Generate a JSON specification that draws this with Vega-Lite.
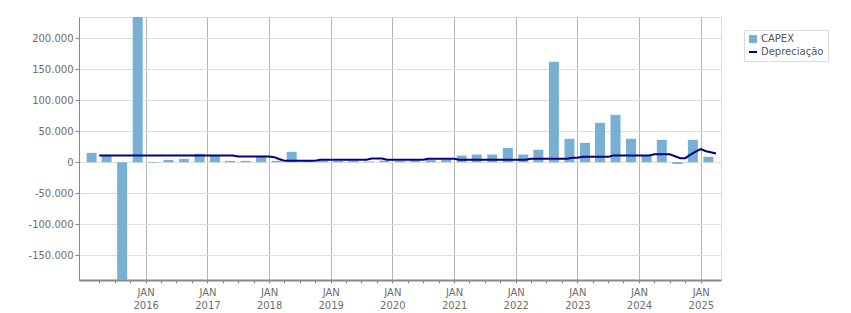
{
  "$schema": "https://vega.github.io/schema/vega-lite/v6.json",
  "autosize": "none",
  "width": 642,
  "height": 263,
  "padding": {"left": 79, "top": 17, "right": 130, "bottom": 33},
  "background": "white",
  "config": {
    "locale": {
      "number": {"decimal": ",", "thousands": ".", "grouping": [3], "currency": ["", ""], "minus": "-"}
    },
    "font": "DejaVu Sans",
    "view": {"stroke": "#dcdcdc", "strokeWidth": 1},
    "axis": {
      "labelFont": "DejaVu Sans",
      "labelFontSize": 10,
      "labelColor": "#6e6e6e",
      "domainColor": "#888888",
      "tickColor": "#888888",
      "title": null
    }
  },
  "layer": [
    {
      "data": {
        "values": [
          {"date": "2015-02-15", "value": 15000},
          {"date": "2015-05-15", "value": 10000},
          {"date": "2015-08-15", "value": -210000},
          {"date": "2015-11-15", "value": 250000},
          {"date": "2016-02-15", "value": -1000},
          {"date": "2016-05-15", "value": 3700},
          {"date": "2016-08-15", "value": 5300},
          {"date": "2016-11-15", "value": 13400},
          {"date": "2017-02-15", "value": 10500},
          {"date": "2017-05-15", "value": 2000},
          {"date": "2017-08-15", "value": 2000},
          {"date": "2017-11-15", "value": 9000},
          {"date": "2018-02-15", "value": 2000},
          {"date": "2018-05-15", "value": 16600},
          {"date": "2018-08-15", "value": 1500},
          {"date": "2018-11-15", "value": 2500},
          {"date": "2019-02-15", "value": 2000},
          {"date": "2019-05-15", "value": 2000},
          {"date": "2019-08-15", "value": 1000},
          {"date": "2019-11-15", "value": 2500},
          {"date": "2020-02-15", "value": 2000},
          {"date": "2020-05-15", "value": 2500},
          {"date": "2020-08-15", "value": 4000},
          {"date": "2020-11-15", "value": 4000},
          {"date": "2021-02-15", "value": 10600},
          {"date": "2021-05-15", "value": 12300},
          {"date": "2021-08-15", "value": 12300},
          {"date": "2021-11-15", "value": 23000},
          {"date": "2022-02-15", "value": 12300},
          {"date": "2022-05-15", "value": 19900},
          {"date": "2022-08-15", "value": 161800},
          {"date": "2022-11-15", "value": 37600},
          {"date": "2023-02-15", "value": 31100},
          {"date": "2023-05-15", "value": 63400},
          {"date": "2023-08-15", "value": 76300},
          {"date": "2023-11-15", "value": 37600},
          {"date": "2024-02-15", "value": 11000},
          {"date": "2024-05-15", "value": 36000},
          {"date": "2024-08-15", "value": -3000},
          {"date": "2024-11-15", "value": 36000},
          {"date": "2025-02-15", "value": 8600}
        ]
      },
      "mark": {"type": "bar", "size": 10, "clip": true},
      "encoding": {
        "x": {
          "field": "date",
          "type": "temporal",
          "scale": {
            "type": "utc",
            "domain": [
              {"year": 2015, "month": 1, "date": 1, "utc": true},
              {"year": 2025, "month": 4, "date": 1, "utc": true}
            ]
          },
          "axis": {
            "values": [
              {"year": 2015, "month": 4, "date": 1, "utc": true},
              {"year": 2015, "month": 7, "date": 1, "utc": true},
              {"year": 2015, "month": 10, "date": 1, "utc": true},
              {"year": 2016, "month": 1, "date": 1, "utc": true},
              {"year": 2016, "month": 4, "date": 1, "utc": true},
              {"year": 2016, "month": 7, "date": 1, "utc": true},
              {"year": 2016, "month": 10, "date": 1, "utc": true},
              {"year": 2017, "month": 1, "date": 1, "utc": true},
              {"year": 2017, "month": 4, "date": 1, "utc": true},
              {"year": 2017, "month": 7, "date": 1, "utc": true},
              {"year": 2017, "month": 10, "date": 1, "utc": true},
              {"year": 2018, "month": 1, "date": 1, "utc": true},
              {"year": 2018, "month": 4, "date": 1, "utc": true},
              {"year": 2018, "month": 7, "date": 1, "utc": true},
              {"year": 2018, "month": 10, "date": 1, "utc": true},
              {"year": 2019, "month": 1, "date": 1, "utc": true},
              {"year": 2019, "month": 4, "date": 1, "utc": true},
              {"year": 2019, "month": 7, "date": 1, "utc": true},
              {"year": 2019, "month": 10, "date": 1, "utc": true},
              {"year": 2020, "month": 1, "date": 1, "utc": true},
              {"year": 2020, "month": 4, "date": 1, "utc": true},
              {"year": 2020, "month": 7, "date": 1, "utc": true},
              {"year": 2020, "month": 10, "date": 1, "utc": true},
              {"year": 2021, "month": 1, "date": 1, "utc": true},
              {"year": 2021, "month": 4, "date": 1, "utc": true},
              {"year": 2021, "month": 7, "date": 1, "utc": true},
              {"year": 2021, "month": 10, "date": 1, "utc": true},
              {"year": 2022, "month": 1, "date": 1, "utc": true},
              {"year": 2022, "month": 4, "date": 1, "utc": true},
              {"year": 2022, "month": 7, "date": 1, "utc": true},
              {"year": 2022, "month": 10, "date": 1, "utc": true},
              {"year": 2023, "month": 1, "date": 1, "utc": true},
              {"year": 2023, "month": 4, "date": 1, "utc": true},
              {"year": 2023, "month": 7, "date": 1, "utc": true},
              {"year": 2023, "month": 10, "date": 1, "utc": true},
              {"year": 2024, "month": 1, "date": 1, "utc": true},
              {"year": 2024, "month": 4, "date": 1, "utc": true},
              {"year": 2024, "month": 7, "date": 1, "utc": true},
              {"year": 2024, "month": 10, "date": 1, "utc": true},
              {"year": 2025, "month": 1, "date": 1, "utc": true}
            ],
            "tickCount": 200,
            "labelExpr": "utcmonth(datum.value) == 0 ? ['JAN', utcFormat(datum.value, '%Y')] : ''",
            "labelAlign": "center",
            "labelPadding": 4,
            "labelLineHeight": 13,
            "tickSize": 3,
            "domainWidth": 2,
            "grid": true,
            "gridColor": "#b4b4b4",
            "gridOpacity": {"condition": {"test": "utcmonth(datum.value) == 0", "value": 1}, "value": 0},
            "labelOverlap": false,
            "labelFlush": false
          }
        },
        "y": {
          "field": "value",
          "type": "quantitative",
          "scale": {"domain": [-190000, 234000], "nice": false, "zero": false},
          "axis": {
            "values": [-150000, -100000, -50000, 0, 50000, 100000, 150000, 200000],
            "tickCount": 50,
            "format": ",.0f",
            "tickSize": 4,
            "labelPadding": 2,
            "labelOverlap": false,
            "grid": true,
            "gridColor": "#dedede"
          }
        },
        "color": {
          "datum": "CAPEX",
          "type": "nominal",
          "scale": {"domain": ["CAPEX", "Depreciação"], "range": ["#78b0d3", "#000080"]},
          "legend": {
            "title": null,
            "orient": "none",
            "legendX": 665,
            "legendY": 13,
            "padding": 4,
            "strokeColor": "#dcdcdc",
            "fillColor": "white",
            "labelFont": "DejaVu Sans",
            "labelFontSize": 10,
            "labelColor": "#555555",
            "labelOffset": 3,
            "rowPadding": 3,
            "symbolSize": 64,
            "encode": {
              "symbols": {
                "update": {
                  "shape": {"signal": "datum.value === 'CAPEX' ? 'square' : 'stroke'"},
                  "fill": {"scale": "color", "field": "value"},
                  "stroke": {"scale": "color", "field": "value"},
                  "strokeWidth": {"signal": "datum.value === 'CAPEX' ? 0 : 2"},
                  "opacity": {"value": 1}
                }
              }
            }
          }
        }
      }
    },
    {
      "data": {
        "values": [
          {"date": "2015-04-01", "dep": 10750},
          {"date": "2017-06-01", "dep": 10750},
          {"date": "2017-07-01", "dep": 9140},
          {"date": "2018-01-01", "dep": 9140},
          {"date": "2018-02-01", "dep": 8000},
          {"date": "2018-03-01", "dep": 5000},
          {"date": "2018-04-01", "dep": 2150},
          {"date": "2018-10-01", "dep": 2150},
          {"date": "2018-11-01", "dep": 3760},
          {"date": "2019-08-01", "dep": 3760},
          {"date": "2019-09-01", "dep": 5900},
          {"date": "2019-11-01", "dep": 5900},
          {"date": "2019-12-01", "dep": 3760},
          {"date": "2020-07-01", "dep": 3760},
          {"date": "2020-08-01", "dep": 5400},
          {"date": "2021-01-01", "dep": 5400},
          {"date": "2021-02-01", "dep": 3760},
          {"date": "2022-03-01", "dep": 3760},
          {"date": "2022-04-01", "dep": 5400},
          {"date": "2022-11-01", "dep": 5400},
          {"date": "2022-12-01", "dep": 7000},
          {"date": "2023-01-01", "dep": 7000},
          {"date": "2023-02-01", "dep": 8500},
          {"date": "2023-07-01", "dep": 8500},
          {"date": "2023-08-01", "dep": 10750},
          {"date": "2024-03-01", "dep": 10750},
          {"date": "2024-04-01", "dep": 12600},
          {"date": "2024-07-01", "dep": 12600},
          {"date": "2024-08-01", "dep": 9500},
          {"date": "2024-09-01", "dep": 6450},
          {"date": "2024-10-01", "dep": 6450},
          {"date": "2024-11-01", "dep": 12000},
          {"date": "2024-12-01", "dep": 17000},
          {"date": "2025-01-01", "dep": 21000},
          {"date": "2025-02-01", "dep": 17500},
          {"date": "2025-03-01", "dep": 16000},
          {"date": "2025-04-01", "dep": 13800}
        ]
      },
      "mark": {"type": "line", "strokeWidth": 2, "interpolate": "linear"},
      "encoding": {
        "x": {"field": "date", "type": "temporal"},
        "y": {"field": "dep", "type": "quantitative"},
        "color": {"datum": "Depreciação", "type": "nominal"}
      }
    }
  ]
}
